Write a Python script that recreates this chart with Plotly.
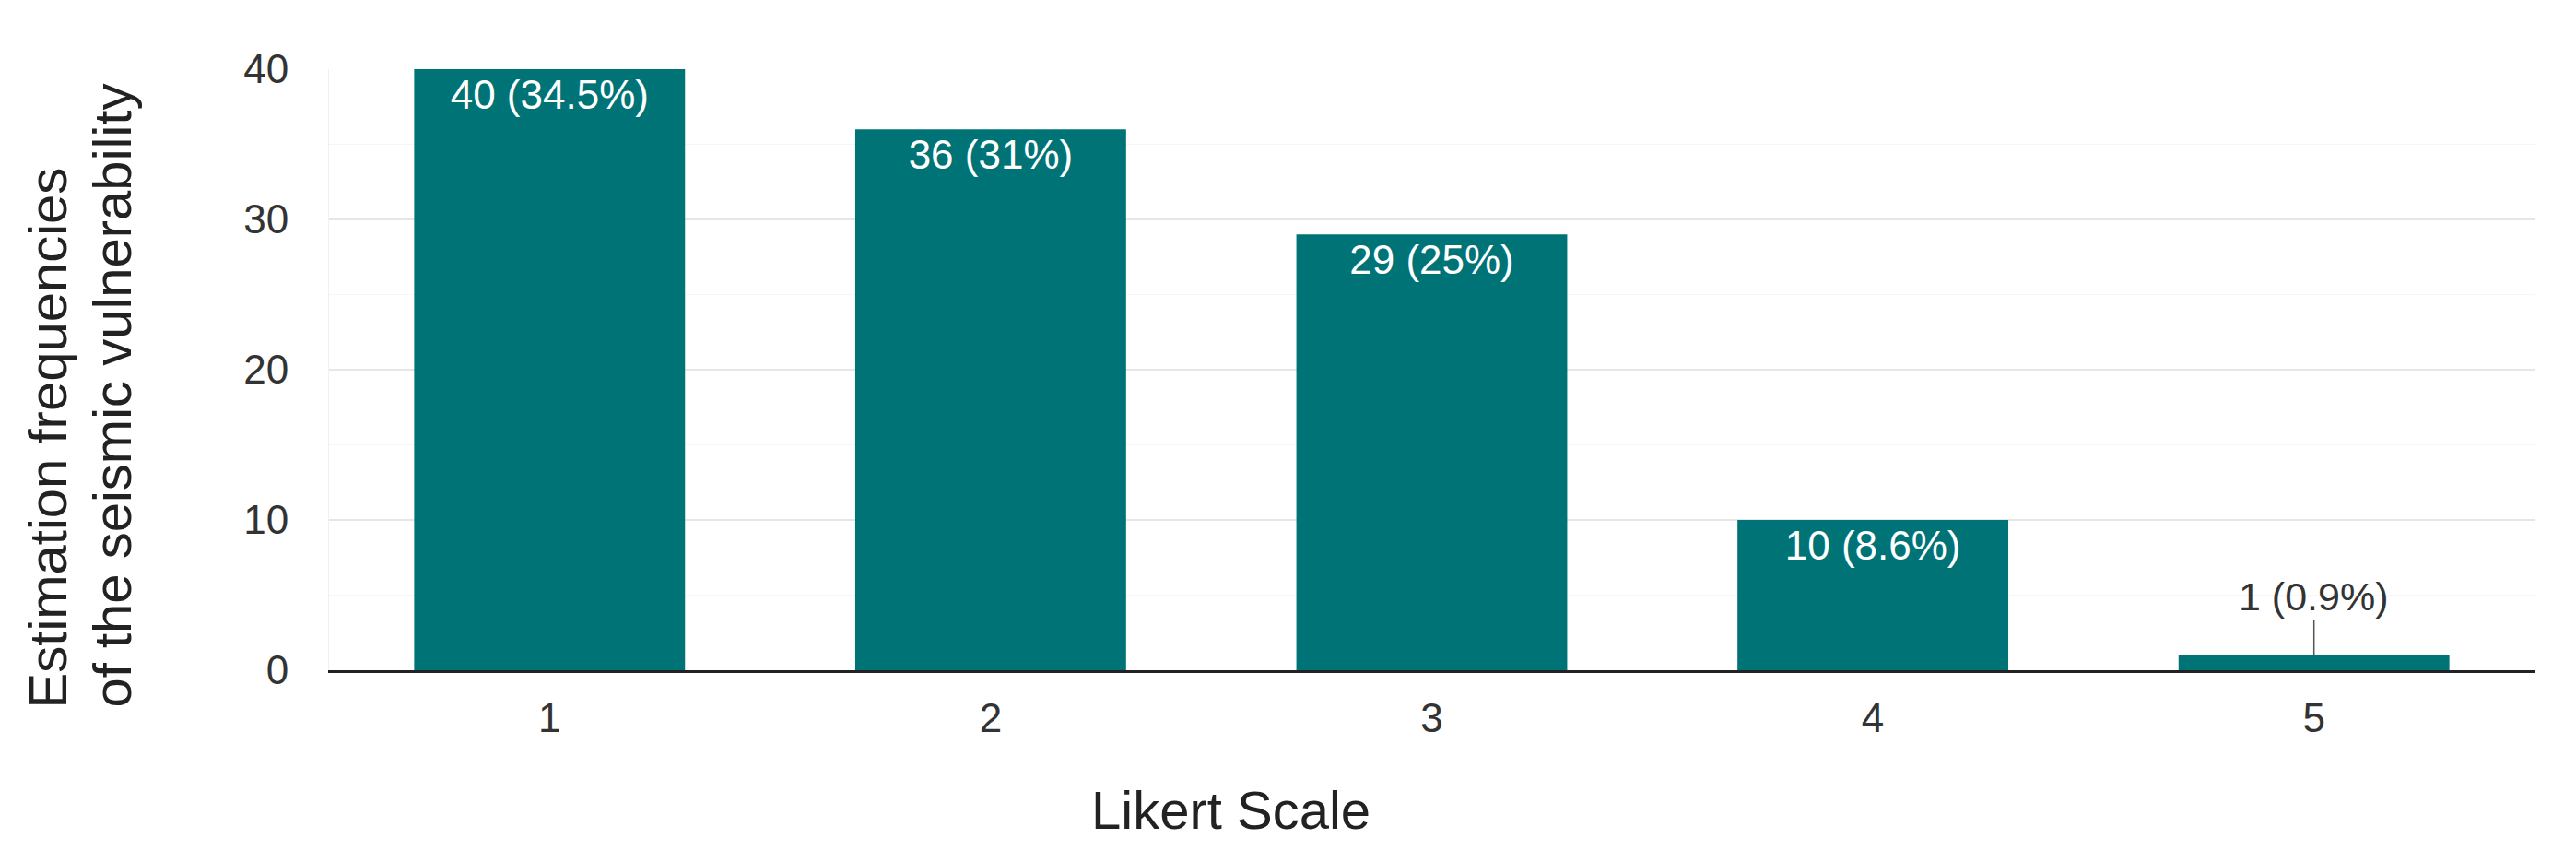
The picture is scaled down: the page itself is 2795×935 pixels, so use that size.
import plotly.graph_objects as go

# survey answers per Likert level
likert_levels = [1, 2, 3, 4, 5]
counts = [40, 36, 29, 10, 1]
shares = ["34.5%", "31%", "25%", "8.6%", "0.9%"]

BAR_COLOR = "#007377"
FONT = "Liberation Sans, Arial, sans-serif"

labels = [f"{c} ({s})" for c, s in zip(counts, shares)]
# the smallest bar gets its label outside, with a leader line
text_pos = ["inside"] * (len(counts) - 1) + ["none"]

fig = go.Figure(
    go.Bar(
        x=likert_levels,
        y=counts,
        marker_color=BAR_COLOR,
        marker_line_width=0,
        text=labels,
        textposition=text_pos,
        insidetextanchor="end",
        textangle=0,
        insidetextfont=dict(color="white", size=44, family=FONT),
        cliponaxis=False,
    )
)

fig.add_annotation(
    x=likert_levels[-1], y=counts[-1],
    text=labels[-1],
    showarrow=True, arrowhead=0, arrowwidth=1.5, arrowcolor="#555",
    ax=0, ay=-64,
    font=dict(size=43, color="#333", family=FONT),
)

# y title: two lines, both starting at the bottom like the original
for x_pos, line in [(-0.1275, "Estimation frequencies"), (-0.0982, "of the seismic vulnerability")]:
    fig.add_annotation(
        xref="paper", yref="paper",
        x=x_pos, y=-0.066, xanchor="center", yanchor="bottom",
        text=line, textangle=-90, showarrow=False,
        font=dict(size=58, color="#222", family=FONT),
    )

fig.add_annotation(
    xref="paper", yref="paper",
    x=0.409, y=-0.2316, xanchor="center", yanchor="middle",
    text="Likert Scale", showarrow=False,
    font=dict(size=58, color="#222", family=FONT),
)

# page body has an 8px margin, so margins are shifted to keep the plot in place
fig.update_layout(
    width=2795,
    height=935,
    margin=dict(l=349, r=53, t=67, b=216),
    paper_bgcolor="white",
    plot_bgcolor="white",
    bargap=0.386,
    showlegend=False,
    font=dict(family=FONT, color="#333"),
)
fig.update_xaxes(
    range=[0.5, 5.5],
    tickvals=likert_levels,
    showline=True, linecolor="#222", linewidth=3,
    showgrid=False, zeroline=False,
    ticks="outside", ticklen=11, tickcolor="rgba(0,0,0,0)",
    tickfont=dict(size=44, color="#333"),
)
fig.update_yaxes(
    range=[0, 40],
    dtick=10,
    showgrid=True, gridcolor="#e6e6e6", gridwidth=2,
    minor=dict(dtick=5, showgrid=True, gridcolor="#f6f6f6", gridwidth=1),
    showline=True, linecolor="#f0f0f0", linewidth=1,
    zeroline=False,
    ticks="outside", ticklen=34, tickcolor="rgba(0,0,0,0)",
    tickfont=dict(size=44, color="#333"),
)

fig.write_html("out.html")
